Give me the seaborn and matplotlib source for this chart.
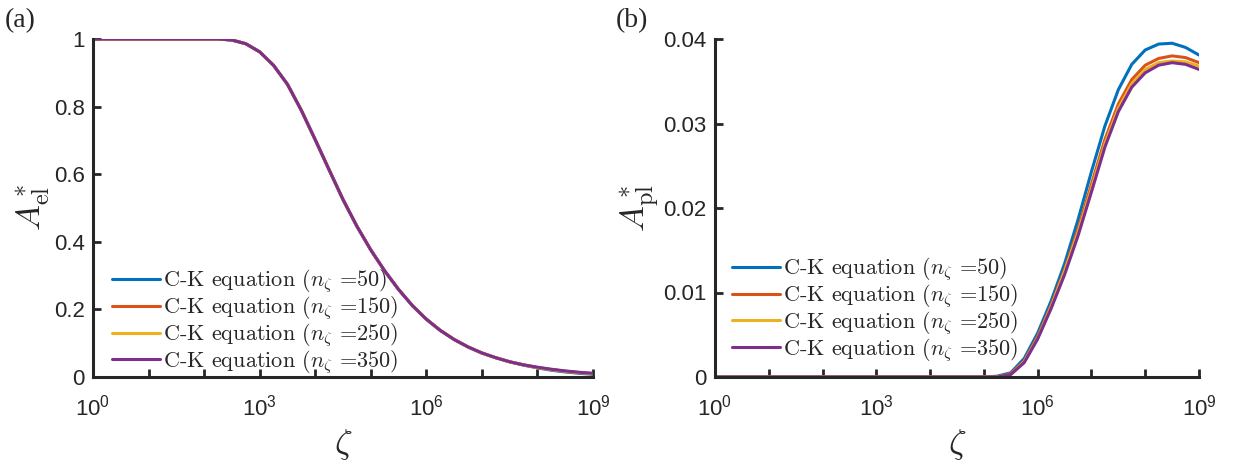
import numpy as np
import pandas as pd
import seaborn as sns
import matplotlib.pyplot as plt

sns.set_theme(style="ticks")
plt.rcParams["font.family"] = ["Liberation Sans", "DejaVu Sans"]
plt.rcParams["mathtext.fontset"] = "cm"

# zeta sampled every quarter decade, 10^0 .. 10^9
zeta_exp = np.linspace(0, 9, 37)
n_zeta = [50, 150, 250, 350]
colors = ["#0072BD", "#D95319", "#EDB120", "#7E2F8E"]

# (a) elastic area fraction (curves nearly coincide)
a_el = [1.0, 1.0, 1.0, 1.0, 1.0, 1.0, 1.0, 1.0, 1.0, 1.0, 0.997, 0.986,
        0.962, 0.922, 0.866, 0.789, 0.702, 0.613, 0.525, 0.446, 0.376, 0.314,
        0.259, 0.211, 0.171, 0.138, 0.111, 0.089, 0.071, 0.057, 0.045, 0.036,
        0.028, 0.022, 0.017, 0.013, 0.010]
a_el_by_n = {
    50: a_el[:31] + [0.035, 0.027, 0.020, 0.015, 0.011, 0.008],
    150: a_el,
    250: a_el,
    350: a_el[:31] + [0.036, 0.029, 0.023, 0.018, 0.014, 0.011],
}

# (b) plastic area fraction
zeros = [0.0] * 21
a_pl_by_n = {
    50: zeros + [0.0001, 0.0005, 0.0022, 0.0052, 0.0090, 0.0134, 0.0186, 0.0243,
                 0.0297, 0.0340, 0.0370, 0.0387, 0.0394, 0.0395, 0.0390, 0.0381],
    150: zeros + [0.0, 0.0004, 0.0019, 0.0048, 0.0085, 0.0127, 0.0175, 0.0228,
                  0.0281, 0.0323, 0.0352, 0.0369, 0.0377, 0.0380, 0.0378, 0.0372],
    250: zeros + [0.0, 0.0003, 0.0018, 0.0046, 0.0083, 0.0125, 0.0171, 0.0223,
                  0.0276, 0.0318, 0.0347, 0.0364, 0.0372, 0.0374, 0.0373, 0.0368],
    350: zeros + [0.0, 0.0003, 0.0017, 0.0045, 0.0081, 0.0121, 0.0167, 0.0219,
                  0.0272, 0.0314, 0.0343, 0.0360, 0.0369, 0.0372, 0.0370, 0.0364],
}


def label_for(n):
    return r"C-K equation ($n_\zeta$ =%d)" % n


def long_df(by_n):
    rows = []
    for n in n_zeta:
        for e, v in zip(zeta_exp, by_n[n]):
            rows.append({"zeta": 10 ** e, "A": v, "series": label_for(n)})
    return pd.DataFrame(rows)


df_el = long_df(a_el_by_n)
df_pl = long_df(a_pl_by_n)
palette = dict(zip([label_for(n) for n in n_zeta], colors))

fig = plt.figure(figsize=(12.34, 4.67), dpi=100)
ax1 = fig.add_axes([93 / 1234, 1 - 377 / 467, 500 / 1234, 338 / 467])
ax2 = fig.add_axes([715 / 1234, 1 - 377 / 467, 484 / 1234, 338 / 467])

spine_col = "#262626"
for ax, df, ylab, ymax, yticks, ylabels, leg_xy in [
    (ax1, df_el, r"$A^*_{\rm el}$", 1.0, [0, 0.2, 0.4, 0.6, 0.8, 1.0],
     ["0", "0.2", "0.4", "0.6", "0.8", "1"], (0.038, 0.322)),
    (ax2, df_pl, r"$A^*_{\rm pl}$", 0.04, [0, 0.01, 0.02, 0.03, 0.04],
     ["0", "0.01", "0.02", "0.03", "0.04"], (0.035, 0.358)),
]:
    sns.lineplot(data=df, x="zeta", y="A", hue="series", palette=palette,
                 linewidth=2.2, ax=ax, legend=True)
    ax.set_xscale("log")
    ax.set_xlim(1, 1e9)
    ax.set_ylim(0, ymax)
    ax.set_xticks([10.0 ** k for k in range(10)])
    ax.set_xticklabels([r"$\mathregular{10^{%d}}$" % k if k % 3 == 0 else ""
                        for k in range(10)])
    ax.minorticks_off()
    ax.set_yticks(yticks)
    ax.set_yticklabels(ylabels)
    ax.tick_params(axis="both", direction="in", length=6, width=2,
                   color=spine_col, labelsize=16, labelcolor="#262626")
    ax.tick_params(axis="x", pad=13)
    ax.tick_params(axis="y", pad=6)
    for side in ["top", "right"]:
        ax.spines[side].set_visible(False)
    for side in ["left", "bottom"]:
        ax.spines[side].set_linewidth(2.2)
        ax.spines[side].set_color(spine_col)
    ax.set_xlabel(r"$\zeta$", fontsize=25, labelpad=4)
    ax.set_ylabel(ylab, fontsize=25, labelpad=1)
    handles, labels = ax.get_legend_handles_labels()
    ax.legend(handles, labels, loc="upper left", bbox_to_anchor=leg_xy,
              frameon=False, borderaxespad=0, borderpad=0,
              handlelength=2.15, handletextpad=0.15, labelspacing=-0.02,
              prop={"family": "cmr10", "size": 16})

fig.text(0.004, 0.955, "(a)", fontsize=20, family="Liberation Serif", va="center")
fig.text(0.499, 0.955, "(b)", fontsize=20, family="Liberation Serif", va="center")

fig.savefig("out.png", dpi=100)
